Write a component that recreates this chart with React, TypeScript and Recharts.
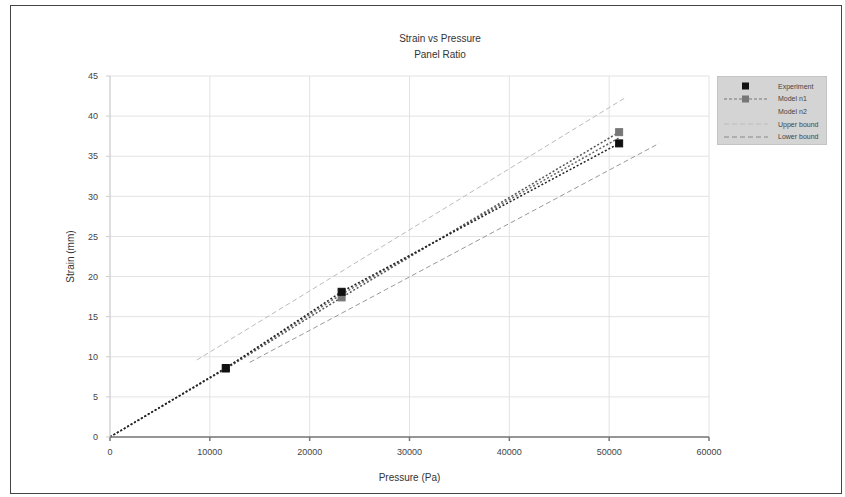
import React from "react";
import { LineChart, Line, XAxis, YAxis, CartesianGrid, Legend } from "recharts";

const pressure = [0, 11600, 23200, 51000];
const experiment = [0, 8.6, 18.1, 36.6];
const model1 = [0, 8.5, 17.4, 38.0];
const model2 = [0, 8.6, 17.8, 37.3];
const upperX = [8700, 51500];
const upperY = [9.6, 42.2];
const lowerX = [14000, 55000];
const lowerY = [9.3, 36.6];
const xTicks = [0, 10000, 20000, 30000, 40000, 50000, 60000];
const yTicks = [0, 5, 10, 15, 20, 25, 30, 35, 40, 45];
const seriesNames = ["Experiment", "Model n1", "Model n2", "Upper bound", "Lower bound"];

const expData = pressure.map((x, i) => ({ x, y: experiment[i] }));
const m1Data = pressure.map((x, i) => ({ x, y: model1[i] }));
const m2Data = pressure.map((x, i) => ({ x, y: model2[i] }));
const upData = upperX.map((x, i) => ({ x, y: upperY[i] }));
const loData = lowerX.map((x, i) => ({ x, y: lowerY[i] }));

const FONT = "'Liberation Sans', Arial, sans-serif";

const Square = (color: string) => (props: any) => {
  const { cx, cy, index, payload } = props;
  if (cx == null || cy == null || index === 0 || (payload && payload.x === 0)) return <g key={"d" + index} />;
  return <rect key={"d" + index} x={cx - 3.5} y={cy - 3.5} width={7} height={7} fill={color} stroke={color} />;
};

const legendStyles = [
  { stroke: "#111", dash: "", marker: "#111" },
  { stroke: "#777", dash: "3 2", marker: "#777" },
  { stroke: "#999", dash: "2 2", marker: "" },
  { stroke: "#bbb", dash: "5 3", marker: "" },
  { stroke: "#888", dash: "5 3", marker: "" },
];

const LegendBox = () => (
  <div
    style={{
      background: "#d4d4d4",
      border: "1px solid #c4c4c4",
      width: 110,
      height: 69,
      boxSizing: "border-box",
      padding: "3px 4px",
      fontFamily: FONT,
      fontSize: 7,
      color: "#444",
    }}
  >
    {seriesNames.map((n, i) => (
      <div key={n} style={{ display: "flex", alignItems: "center", height: 12.6 }}>
        <svg width={48} height={10}>
          {i !== 0 && i !== 2 ? (
            <line x1={2} y1={5} x2={46} y2={5} stroke={legendStyles[i].stroke} strokeDasharray={legendStyles[i].dash} />
          ) : null}
          {legendStyles[i].marker ? (
            <rect x={20} y={1.5} width={7} height={7} fill={legendStyles[i].marker} />
          ) : null}
        </svg>
        <span style={{ marginLeft: 8 }}>{n}</span>
      </div>
    ))}
  </div>
);

export default function App() {
  return (
    <div style={{ position: "absolute", left: 0, top: 0, width: 845, height: 497, background: "#fff" }}>
      <div
        style={{
          position: "absolute",
          left: 10,
          top: 5,
          width: 832,
          height: 489,
          border: "1.5px solid #444",
          boxSizing: "border-box",
        }}
      />
      <div
        style={{
          position: "absolute",
          left: 0,
          width: 880,
          top: 31,
          textAlign: "center",
          fontFamily: FONT,
          fontSize: 10,
          lineHeight: "16px",
          color: "#333",
        }}
      >
        <div>Strain vs Pressure</div>
        <div>Panel Ratio</div>
      </div>
      <div style={{ position: "absolute", left: 0, top: 0 }}>
        <LineChart width={845} height={497} margin={{ top: 76, right: 136, bottom: 0, left: 0 }}>
          <CartesianGrid stroke="#e2e2e2" />
          <XAxis
            dataKey="x"
            type="number"
            domain={[0, 60000]}
            ticks={xTicks}
            allowDuplicatedCategory={false}
            height={60}
            stroke="#777"
            strokeWidth={1.5}
            tickSize={4}
            tick={{ fontSize: 9, fill: "#444", fontFamily: FONT }}
            tickMargin={8}
            label={{ value: "Pressure (Pa)", position: "insideBottom", offset: 16, style: { fontSize: 10, fill: "#333", fontFamily: FONT } }}
          />
          <YAxis
            type="number"
            domain={[0, 45]}
            ticks={yTicks}
            width={110}
            stroke="#ccc"
            tickSize={4}
            tick={{ fontSize: 9, fill: "#444", fontFamily: FONT }}
            tickMargin={8}
            label={{ value: "Strain (mm)", angle: -90, position: "insideLeft", offset: 70, style: { fontSize: 10, fill: "#333", fontFamily: FONT, textAnchor: "middle" } }}
          />
          <Legend
            layout="horizontal"
            verticalAlign="middle"
            align="center"
            content={() => <LegendBox />}
            wrapperStyle={{ left: 717, top: 76, width: 110, height: 69 }}
          />
          <Line data={upData} dataKey="y" name={seriesNames[3]} stroke="#bbb" strokeWidth={1} strokeDasharray="5 3" dot={false} isAnimationActive={false} />
          <Line data={loData} dataKey="y" name={seriesNames[4]} stroke="#999" strokeWidth={1} strokeDasharray="5 3" dot={false} isAnimationActive={false} />
          <Line data={m2Data} dataKey="y" name={seriesNames[2]} stroke="#666" strokeWidth={1.5} strokeDasharray="2 2" dot={false} isAnimationActive={false} />
          <Line data={m1Data} dataKey="y" name={seriesNames[1]} stroke="#555" strokeWidth={1.5} strokeDasharray="2 2" dot={Square("#777")} isAnimationActive={false} />
          <Line data={expData} dataKey="y" name={seriesNames[0]} stroke="#222" strokeWidth={1.5} strokeDasharray="2 2" dot={Square("#111")} isAnimationActive={false} />
        </LineChart>
      </div>
    </div>
  );
}
